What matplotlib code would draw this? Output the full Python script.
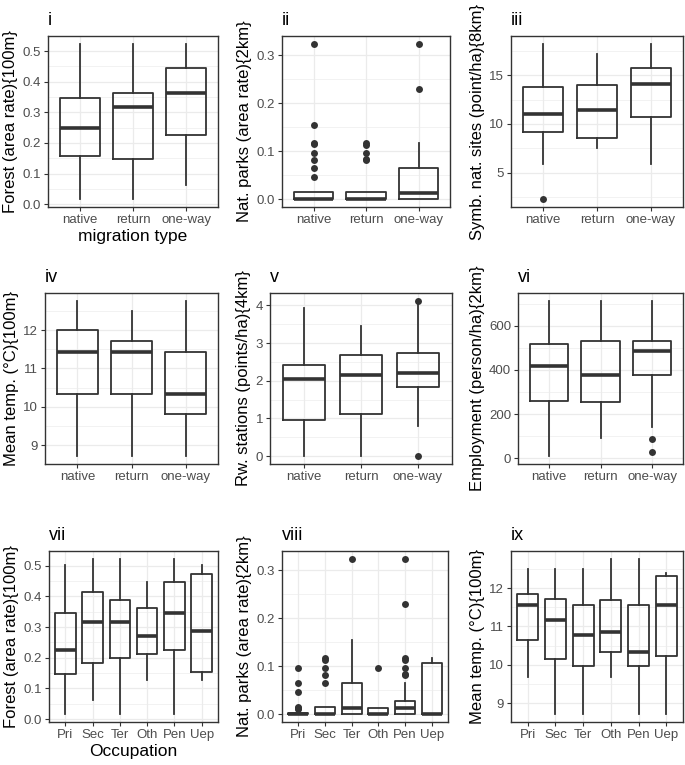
"""
Boxplots of environmental variables by migration type (i-vi) and by occupation (vii-ix).
Output: out.png
"""

import matplotlib
matplotlib.use("Agg")
import matplotlib.pyplot as plt
from matplotlib.ticker import AutoMinorLocator, FixedLocator

plt.rcParams["font.family"] = ["Liberation Sans", "DejaVu Sans"]

MIGRATION = ["native", "return", "one-way"]
OCCUPATION = ["Pri", "Sec", "Ter", "Oth", "Pen", "Uep"]

# box statistics: (whisker low, q1, median, q3, whisker high)
forest_mig = [(0.016, 0.158, 0.249, 0.346, 0.524),
              (0.016, 0.147, 0.316, 0.363, 0.524),
              (0.064, 0.227, 0.363, 0.446, 0.524)]
forest_mig_out = [[], [], []]

parks_mig = [(0.0, 0.0, 0.0, 0.015, 0.015),
             (0.0, 0.0, 0.0, 0.015, 0.015),
             (0.0, 0.0, 0.013, 0.066, 0.118)]
parks_mig_out = [[0.324, 0.155, 0.118, 0.115, 0.097, 0.081, 0.066, 0.046],
                 [0.118, 0.114, 0.097, 0.083, 0.081],
                 [0.324, 0.229]]

symb_mig = [(5.85, 9.2, 11.05, 13.8, 18.24),
            (7.56, 8.55, 11.4, 14.05, 17.22),
            (5.85, 10.7, 14.07, 15.75, 18.24)]
symb_mig_out = [[2.27], [], []]

temp_mig = [(8.72, 10.34, 11.43, 12.0, 12.76),
            (8.72, 10.34, 11.43, 11.72, 12.5),
            (8.72, 9.81, 10.34, 11.43, 12.76)]
temp_mig_out = [[], [], []]

rw_mig = [(0.0, 0.96, 2.04, 2.43, 3.93),
          (0.0, 1.12, 2.16, 2.68, 3.45),
          (0.8, 1.83, 2.2, 2.73, 4.05)]
rw_mig_out = [[], [], [4.12, 0.0]]

emp_mig = [(9, 261, 416, 519, 713),
           (92, 255, 376, 531, 713),
           (142, 376, 487, 532, 713)]
emp_mig_out = [[], [], [89, 29]]

forest_occ = [(0.016, 0.147, 0.227, 0.346, 0.503),
              (0.064, 0.182, 0.317, 0.416, 0.523),
              (0.016, 0.201, 0.317, 0.388, 0.523),
              (0.127, 0.213, 0.270, 0.362, 0.446),
              (0.016, 0.226, 0.346, 0.446, 0.523),
              (0.127, 0.154, 0.286, 0.474, 0.503)]
forest_occ_out = [[], [], [], [], [], []]

parks_occ = [(0.0, 0.0, 0.0, 0.002, 0.004),
             (0.0, 0.0, 0.0, 0.015, 0.015),
             (0.0, 0.0, 0.014, 0.065, 0.155),
             (0.0, 0.0, 0.0, 0.013, 0.013),
             (0.0, 0.0, 0.014, 0.028, 0.066),
             (0.0, 0.0, 0.0, 0.107, 0.118)]
parks_occ_out = [[0.097, 0.066, 0.046, 0.016, 0.012, 0.010],
                 [0.118, 0.114, 0.097, 0.081, 0.066],
                 [0.324],
                 [0.097],
                 [0.324, 0.230, 0.118, 0.114, 0.097, 0.084, 0.081],
                 []]

temp_occ = [(9.69, 10.66, 11.55, 11.85, 12.5),
            (8.72, 10.16, 11.16, 11.71, 12.5),
            (8.72, 9.98, 10.77, 11.55, 12.5),
            (9.69, 10.33, 10.85, 11.68, 12.76),
            (8.72, 9.97, 10.34, 11.55, 12.76),
            (8.72, 10.23, 11.55, 12.3, 12.38)]
temp_occ_out = [[], [], [], [], [], []]

TICKS_FOREST = [0.0, 0.1, 0.2, 0.3, 0.4, 0.5]
TICKS_PARKS = [0.0, 0.1, 0.2, 0.3]
TICKS_SYMB = [5, 10, 15]
TICKS_TEMP = [9, 10, 11, 12]
TICKS_RW = [0, 1, 2, 3, 4]
TICKS_EMP = [0, 200, 400, 600]

W, H = 685, 765
DARK = "#333333"
GRID = "#EBEBEB"


def px_rect(left, top, right, bottom):
    return [left / W, 1 - bottom / H, (right - left) / W, (bottom - top) / H]


panels = [
    ("i", MIGRATION, forest_mig, forest_mig_out, TICKS_FOREST, "{:.1f}",
     "Forest (area rate){100m}", "migration type", (48, 36, 218, 207)),
    ("ii", MIGRATION, parks_mig, parks_mig_out, TICKS_PARKS, "{:.1f}",
     "Nat. parks (area rate){2km}", None, (282, 36, 450, 207)),
    ("iii", MIGRATION, symb_mig, symb_mig_out, TICKS_SYMB, "{:d}",
     "Symb. nat. sites (point/ha){8km}", None, (511, 36, 683, 207)),
    ("iv", MIGRATION, temp_mig, temp_mig_out, TICKS_TEMP, "{:d}",
     "Mean temp. (°C){100m}", None, (45, 293, 218, 464)),
    ("v", MIGRATION, rw_mig, rw_mig_out, TICKS_RW, "{:d}",
     "Rw. stations (points/ha){4km}", None, (270, 293, 452, 464)),
    ("vi", MIGRATION, emp_mig, emp_mig_out, TICKS_EMP, "{:d}",
     "Employment (person/ha){2km}", None, (518, 293, 683, 464)),
    ("vii", OCCUPATION, forest_occ, forest_occ_out, TICKS_FOREST, "{:.1f}",
     "Forest (area rate){100m}", "Occupation", (49, 551, 218, 722)),
    ("viii", OCCUPATION, parks_occ, parks_occ_out, TICKS_PARKS, "{:.1f}",
     "Nat. parks (area rate){2km}", None, (282, 551, 448, 722)),
    ("ix", OCCUPATION, temp_occ, temp_occ_out, TICKS_TEMP, "{:d}",
     "Mean temp. (°C){100m}", None, (511, 551, 683, 722)),
]

fig = plt.figure(figsize=(W / 100, H / 100), dpi=100)

for tag, cats, stats, outs, ticks, fmt, ylabel, xlabel, rect in panels:
    ax = fig.add_axes(px_rect(*rect))
    bstats = []
    for (lo, q1, med, q3, hi), fl in zip(stats, outs):
        bstats.append(dict(whislo=lo, q1=q1, med=med, q3=q3, whishi=hi, fliers=fl))
    n = len(cats)
    ax.bxp(bstats, positions=range(1, n + 1), widths=0.75, showcaps=False,
           boxprops=dict(color=DARK, lw=1.3),
           whiskerprops=dict(color=DARK, lw=1.3),
           medianprops=dict(color=DARK, lw=2.6, solid_capstyle="butt"),
           flierprops=dict(marker="o", markerfacecolor=DARK,
                           markeredgecolor="none", markersize=5),
           manage_ticks=False, zorder=3)
    ax.set_xlim(0.4, n + 0.6)
    ax.set_xticks(range(1, n + 1))
    ax.set_xticklabels(cats)
    ax.yaxis.set_major_locator(FixedLocator(ticks))
    ax.set_yticklabels([fmt.format(t) for t in ticks])
    ax.yaxis.set_minor_locator(AutoMinorLocator(2))
    ax.margins(y=0.05)

    ax.grid(True, which="major", color=GRID, lw=0.9, zorder=0)
    ax.grid(True, which="minor", axis="y", color=GRID, lw=0.45, zorder=0)
    ax.set_axisbelow(True)
    for sp in ax.spines.values():
        sp.set_color(DARK)
        sp.set_linewidth(1.0)
    ax.tick_params(which="major", length=3, width=0.8, color=DARK,
                   labelcolor="#4D4D4D", labelsize=9.5, pad=2)
    ax.tick_params(which="minor", length=0)

    ax.set_ylabel(ylabel, fontsize=12, labelpad=3)
    if xlabel:
        ax.set_xlabel(xlabel, fontsize=12.5, labelpad=2)
    ax.set_title(tag, loc="left", fontsize=13, pad=8)

fig.savefig("out.png", dpi=100)
plt.close(fig)
